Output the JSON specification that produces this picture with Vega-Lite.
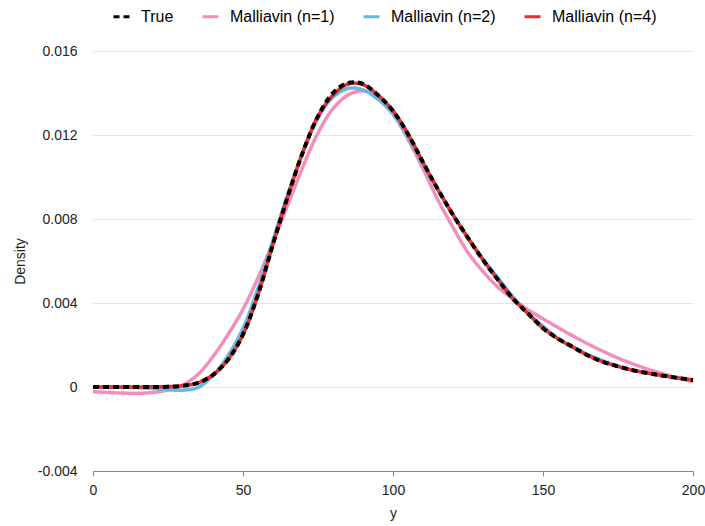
{
  "$schema": "https://vega.github.io/schema/vega-lite/v6.json",
  "width": 600,
  "height": 420,
  "autosize": {"type": "none"},
  "padding": {"left": 93, "top": 51, "right": 12, "bottom": 55},
  "background": "white",
  "config": {
    "font": "Liberation Sans",
    "view": {"stroke": null},
    "axis": {"labelFontSize": 14, "labelColor": "#222", "titleFontSize": 14, "titleFontWeight": "normal", "titleColor": "#222"}
  },
  "data": {
    "values": [
      {"y": 0, "True": 0, "Malliavin (n=1)": -0.00022, "Malliavin (n=2)": 0, "Malliavin (n=4)": 0},
      {"y": 5, "True": 0, "Malliavin (n=1)": -0.00026, "Malliavin (n=2)": 0, "Malliavin (n=4)": 0},
      {"y": 10, "True": 0, "Malliavin (n=1)": -0.00029, "Malliavin (n=2)": -0.00001, "Malliavin (n=4)": 0},
      {"y": 15, "True": 0, "Malliavin (n=1)": -0.0003, "Malliavin (n=2)": -0.00003, "Malliavin (n=4)": 0},
      {"y": 20, "True": 0, "Malliavin (n=1)": -0.00026, "Malliavin (n=2)": -0.00007, "Malliavin (n=4)": 0.00001},
      {"y": 25, "True": 0.00001, "Malliavin (n=1)": -0.00014, "Malliavin (n=2)": -0.00013, "Malliavin (n=4)": 0.00002},
      {"y": 30, "True": 0.00006, "Malliavin (n=1)": 0.0001, "Malliavin (n=2)": -0.00015, "Malliavin (n=4)": 0.00006},
      {"y": 35, "True": 0.0002, "Malliavin (n=1)": 0.0006, "Malliavin (n=2)": -0.00002, "Malliavin (n=4)": 0.0002},
      {"y": 40, "True": 0.00058, "Malliavin (n=1)": 0.00145, "Malliavin (n=2)": 0.00055, "Malliavin (n=4)": 0.00058},
      {"y": 45, "True": 0.0013, "Malliavin (n=1)": 0.0025, "Malliavin (n=2)": 0.0015, "Malliavin (n=4)": 0.0013},
      {"y": 50, "True": 0.0025, "Malliavin (n=1)": 0.0037, "Malliavin (n=2)": 0.0028, "Malliavin (n=4)": 0.0025},
      {"y": 55, "True": 0.0044, "Malliavin (n=1)": 0.0052, "Malliavin (n=2)": 0.0047, "Malliavin (n=4)": 0.0044},
      {"y": 60, "True": 0.0068, "Malliavin (n=1)": 0.0069, "Malliavin (n=2)": 0.007, "Malliavin (n=4)": 0.0068},
      {"y": 65, "True": 0.0091, "Malliavin (n=1)": 0.0087, "Malliavin (n=2)": 0.0092, "Malliavin (n=4)": 0.0091},
      {"y": 70, "True": 0.0112, "Malliavin (n=1)": 0.0105, "Malliavin (n=2)": 0.0112, "Malliavin (n=4)": 0.0112},
      {"y": 75, "True": 0.0129, "Malliavin (n=1)": 0.0121, "Malliavin (n=2)": 0.0128, "Malliavin (n=4)": 0.0129},
      {"y": 80, "True": 0.014, "Malliavin (n=1)": 0.01325, "Malliavin (n=2)": 0.0138, "Malliavin (n=4)": 0.0139},
      {"y": 85, "True": 0.01448, "Malliavin (n=1)": 0.0139, "Malliavin (n=2)": 0.01422, "Malliavin (n=4)": 0.01443},
      {"y": 90, "True": 0.01443, "Malliavin (n=1)": 0.0141, "Malliavin (n=2)": 0.01415, "Malliavin (n=4)": 0.0144},
      {"y": 95, "True": 0.0139, "Malliavin (n=1)": 0.01385, "Malliavin (n=2)": 0.0137, "Malliavin (n=4)": 0.0139},
      {"y": 100, "True": 0.01315, "Malliavin (n=1)": 0.013, "Malliavin (n=2)": 0.013, "Malliavin (n=4)": 0.01315},
      {"y": 105, "True": 0.01205, "Malliavin (n=1)": 0.0118, "Malliavin (n=2)": 0.0119, "Malliavin (n=4)": 0.01205},
      {"y": 110, "True": 0.0107, "Malliavin (n=1)": 0.0104, "Malliavin (n=2)": 0.0106, "Malliavin (n=4)": 0.0107},
      {"y": 115, "True": 0.0094, "Malliavin (n=1)": 0.0089, "Malliavin (n=2)": 0.0094, "Malliavin (n=4)": 0.0094},
      {"y": 120, "True": 0.0082, "Malliavin (n=1)": 0.0076, "Malliavin (n=2)": 0.0082, "Malliavin (n=4)": 0.0082},
      {"y": 125, "True": 0.0071, "Malliavin (n=1)": 0.0064, "Malliavin (n=2)": 0.0071, "Malliavin (n=4)": 0.0071},
      {"y": 130, "True": 0.00605, "Malliavin (n=1)": 0.0055, "Malliavin (n=2)": 0.0061, "Malliavin (n=4)": 0.00605},
      {"y": 135, "True": 0.0051, "Malliavin (n=1)": 0.00475, "Malliavin (n=2)": 0.0052, "Malliavin (n=4)": 0.0051},
      {"y": 140, "True": 0.0042, "Malliavin (n=1)": 0.0042, "Malliavin (n=2)": 0.0043, "Malliavin (n=4)": 0.0042},
      {"y": 145, "True": 0.0035, "Malliavin (n=1)": 0.00368, "Malliavin (n=2)": 0.0035, "Malliavin (n=4)": 0.0035},
      {"y": 150, "True": 0.0028, "Malliavin (n=1)": 0.00325, "Malliavin (n=2)": 0.0029, "Malliavin (n=4)": 0.0028},
      {"y": 155, "True": 0.0023, "Malliavin (n=1)": 0.00283, "Malliavin (n=2)": 0.0023, "Malliavin (n=4)": 0.0023},
      {"y": 160, "True": 0.0019, "Malliavin (n=1)": 0.00243, "Malliavin (n=2)": 0.0019, "Malliavin (n=4)": 0.0019},
      {"y": 165, "True": 0.0015, "Malliavin (n=1)": 0.00205, "Malliavin (n=2)": 0.00155, "Malliavin (n=4)": 0.0015},
      {"y": 170, "True": 0.0012, "Malliavin (n=1)": 0.0017, "Malliavin (n=2)": 0.00125, "Malliavin (n=4)": 0.0012},
      {"y": 175, "True": 0.00098, "Malliavin (n=1)": 0.00138, "Malliavin (n=2)": 0.001, "Malliavin (n=4)": 0.00098},
      {"y": 180, "True": 0.0008, "Malliavin (n=1)": 0.0011, "Malliavin (n=2)": 0.0008, "Malliavin (n=4)": 0.0008},
      {"y": 185, "True": 0.00066, "Malliavin (n=1)": 0.00085, "Malliavin (n=2)": 0.00066, "Malliavin (n=4)": 0.00066},
      {"y": 190, "True": 0.00054, "Malliavin (n=1)": 0.00063, "Malliavin (n=2)": 0.00054, "Malliavin (n=4)": 0.00054},
      {"y": 195, "True": 0.00043, "Malliavin (n=1)": 0.00043, "Malliavin (n=2)": 0.00043, "Malliavin (n=4)": 0.00043},
      {"y": 200, "True": 0.00033, "Malliavin (n=1)": 0.00026, "Malliavin (n=2)": 0.00033, "Malliavin (n=4)": 0.00033}
    ]
  },
  "transform": [
    {"fold": ["Malliavin (n=1)", "Malliavin (n=2)", "Malliavin (n=4)", "True"], "as": ["series", "density"]}
  ],
  "encoding": {
    "x": {
      "field": "y", "type": "quantitative",
      "scale": {"domain": [0, 200], "nice": false, "zero": false},
      "axis": {"values": [0, 50, 100, 150, 200], "grid": false, "labelFlush": false, "domainColor": "#888", "tickColor": "#888", "tickSize": 5, "labelPadding": 7, "title": "y", "titlePadding": 9}
    },
    "y": {
      "field": "density", "type": "quantitative",
      "scale": {"domain": [-0.004, 0.016], "nice": false, "zero": false},
      "axis": {"values": [-0.004, 0, 0.004, 0.008, 0.012, 0.016], "domain": false, "ticks": false, "gridColor": "#e3e3e3", "labelPadding": 16, "labelFlush": false, "labelExpr": "replace(format(datum.value, '.3~f'), '\u2212', '-')", "title": "Density", "titlePadding": 10}
    },
    "color": {
      "field": "series", "type": "nominal",
      "scale": {"domain": ["True", "Malliavin (n=1)", "Malliavin (n=2)", "Malliavin (n=4)"], "range": ["#000000", "#F18EBC", "#64B8E8", "#EC2B2B"]},
      "legend": {"title": null, "orient": "none", "legendX": 19, "legendY": -44, "direction": "horizontal", "symbolType": "stroke", "symbolSize": 256, "symbolStrokeWidth": 3, "labelFontSize": 16, "labelColor": "#000", "labelOffset": 10, "columnPadding": 22, "padding": 0}
    },
    "strokeDash": {
      "field": "series", "type": "nominal",
      "scale": {"domain": ["True", "Malliavin (n=1)", "Malliavin (n=2)", "Malliavin (n=4)"], "range": [[6, 4], [1, 0], [1, 0], [1, 0]]},
      "legend": {"title": null, "orient": "none", "legendX": 19, "legendY": -44, "direction": "horizontal", "symbolType": "stroke", "symbolSize": 256, "symbolStrokeWidth": 3, "labelFontSize": 16, "labelColor": "#000", "labelOffset": 10, "columnPadding": 22, "padding": 0}
    }
  },
  "layer": [
    {
      "transform": [{"filter": "datum.series !== 'True'"}],
      "mark": {"type": "line", "strokeWidth": 3.5, "interpolate": "catmull-rom"}
    },
    {
      "transform": [{"filter": "datum.series === 'True'"}],
      "mark": {"type": "line", "strokeWidth": 4, "interpolate": "catmull-rom"}
    }
  ]
}
